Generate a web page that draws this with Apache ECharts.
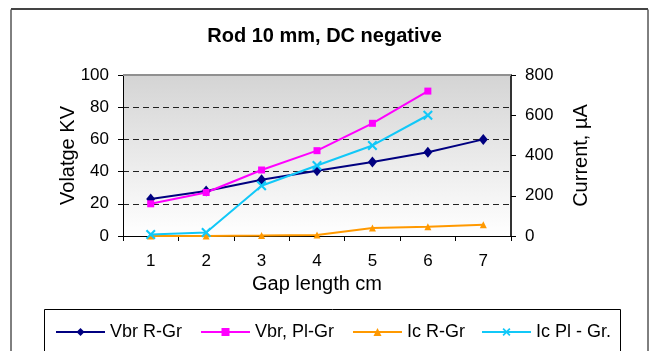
<!DOCTYPE html>
<html>
<head>
<meta charset="utf-8">
<script src="https://cdn.jsdelivr.net/npm/echarts@6/dist/echarts.min.js"></script>
<style>
  html, body { margin: 0; padding: 0; background: #fff; }
  #chart { width: 649px; height: 351px; }
</style>
</head>
<body>
<div id="chart"></div>
<script>
// Gap length categories (cm)
const gapLengths = ['1', '2', '3', '4', '5', '6', '7'];
// Breakdown voltage, kV (left axis)
const vbrRodGround = [23, 28, 35, 40.5, 46, 52, 60];
const vbrPlaneGround = [20, 27, 41, 53, 70, 90];
// Current, µA (right axis)
const icRodGround = [0, 0, 2, 5, 40, 46, 56];
const icPlaneGround = [7, 17, 250, 350, 450, 600];

const seriesNames = ['Vbr R-Gr', 'Vbr, Pl-Gr', 'Ic R-Gr', 'Ic Pl - Gr.'];

const FONT = 'Liberation Sans, Arial, sans-serif';
// X-shaped marker
const crossPath = 'path://M0,1.5 L1.5,0 L5,3.5 L8.5,0 L10,1.5 L6.5,5 L10,8.5 L8.5,10 L5,6.5 L1.5,10 L0,8.5 L3.5,5 Z';

const chart = echarts.init(document.getElementById('chart'), null, { renderer: 'canvas' });

function legendAt(name, left) {
  return {
    data: [name],
    left: left,
    top: 323,
    itemWidth: 49,
    itemHeight: 10,
    itemGap: 0,
    textStyle: { fontFamily: FONT, fontSize: 18, color: '#000', padding: [0, 0, 0, 0] },
    padding: 0,
    selectedMode: false
  };
}

const option = {
  animation: false,
  backgroundColor: '#fff',
  title: {
    text: 'Rod 10 mm, DC negative',
    left: 'center',
    top: 21,
    textStyle: { fontFamily: FONT, fontSize: 20, fontWeight: 'bold', color: '#000' }
  },
  legend: [
    legendAt(seriesNames[0], 55),
    legendAt(seriesNames[1], 200),
    legendAt(seriesNames[2], 352),
    legendAt(seriesNames[3], 481)
  ],
  grid: {
    left: 123,
    right: 138,
    top: 75,
    bottom: 115,
    show: true,
    borderWidth: 0,
    backgroundColor: new echarts.graphic.LinearGradient(0, 0, 0, 1, [
      { offset: 0, color: '#d4d4d4' },
      { offset: 1, color: '#ffffff' }
    ])
  },
  xAxis: {
    type: 'category',
    data: gapLengths,
    boundaryGap: true,
    name: 'Gap length cm',
    nameLocation: 'middle',
    nameGap: 38,
    nameTextStyle: { fontFamily: FONT, fontSize: 20, color: '#000' },
    axisLine: { show: true, onZero: false, lineStyle: { color: '#000', width: 1 } },
    axisTick: { show: true, length: 5, alignWithLabel: false, lineStyle: { color: '#000' } },
    axisLabel: { fontFamily: FONT, fontSize: 17, color: '#000', margin: 17 },
    splitLine: { show: false }
  },
  yAxis: [
    {
      type: 'value',
      min: 0,
      max: 100,
      interval: 20,
      position: 'left',
      name: 'Volatge KV',
      nameLocation: 'middle',
      nameGap: 45,
      nameMoveOverlap: false,
      nameRotate: 90,
      nameTextStyle: { fontFamily: FONT, fontSize: 20, color: '#000' },
      axisLine: { show: true, lineStyle: { color: '#000', width: 1 } },
      axisTick: { show: true, length: 5, lineStyle: { color: '#000' } },
      axisLabel: { fontFamily: FONT, fontSize: 17, color: '#000', margin: 14 },
      splitLine: { show: true, lineStyle: { color: '#222', type: [6, 4], width: 1 } }
    },
    {
      type: 'value',
      min: 0,
      max: 800,
      interval: 200,
      position: 'right',
      name: 'Current, µA',
      nameLocation: 'middle',
      nameGap: 60,
      nameRotate: 90,
      nameTextStyle: { fontFamily: FONT, fontSize: 20, color: '#000' },
      axisLine: { show: true, lineStyle: { color: '#333', width: 2 } },
      axisTick: { show: true, length: 5, inside: false, lineStyle: { color: '#000' } },
      axisLabel: { fontFamily: FONT, fontSize: 17, color: '#000', margin: 14 },
      splitLine: { show: false }
    }
  ],
  series: [
    {
      name: seriesNames[0],
      type: 'line',
      yAxisIndex: 0,
      data: vbrRodGround,
      symbol: 'diamond',
      symbolSize: [9, 11],
      itemStyle: { color: '#000080' },
      lineStyle: { color: '#000080', width: 2 }
    },
    {
      name: seriesNames[1],
      type: 'line',
      yAxisIndex: 0,
      data: vbrPlaneGround,
      symbol: 'rect',
      symbolSize: 7,
      itemStyle: { color: '#ff00ff' },
      lineStyle: { color: '#ff00ff', width: 2 }
    },
    {
      name: seriesNames[2],
      type: 'line',
      yAxisIndex: 1,
      data: icRodGround,
      symbol: 'triangle',
      symbolSize: 7,
      itemStyle: { color: '#ff9900' },
      lineStyle: { color: '#ff9900', width: 2 }
    },
    {
      name: seriesNames[3],
      type: 'line',
      yAxisIndex: 1,
      data: icPlaneGround,
      symbol: crossPath,
      symbolSize: 10,
      itemStyle: { color: '#11c8f8' },
      lineStyle: { color: '#11c8f8', width: 2 }
    }
  ],
  graphic: [
    // top edge of the plot frame
    {
      type: 'line', silent: true, z: 10,
      shape: { x1: 123, y1: 75, x2: 511, y2: 75 },
      style: { stroke: '#909090', lineWidth: 2 }
    },
    // outer chart frame
    {
      type: 'polyline', silent: true,
      shape: { points: [[11, 351], [11, 9.5], [648, 9.5], [648, 351]] },
      style: { stroke: '#000', lineWidth: 1, fill: null }
    },
    {
      type: 'line', silent: true,
      shape: { x1: 11, y1: 9, x2: 648, y2: 9 },
      style: { stroke: '#444', lineWidth: 2 }
    },
    // legend box
    {
      type: 'rect', silent: true,
      shape: { x: 44.5, y: 309.5, width: 576, height: 60 },
      style: { stroke: '#000', lineWidth: 1, fill: null }
    }
  ]
};

chart.setOption(option);
</script>
</body>
</html>
